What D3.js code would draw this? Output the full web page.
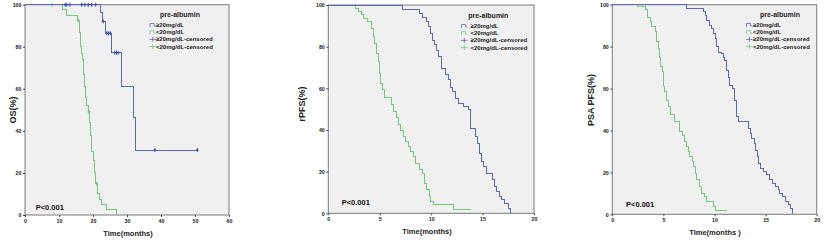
<!DOCTYPE html>
<html>
<head>
<meta charset="utf-8">
<script src="https://cdn.jsdelivr.net/npm/d3@7"></script>
<style>
  html, body { margin: 0; padding: 0; background: #fff; }
  svg { display: block; font-family: "Liberation Sans", Arial, sans-serif; }
</style>
</head>
<body>
<div id="chart"></div>
<script>
// Kaplan-Meier steps: [time (months), survival % after the event]
const osHighSteps = [[22.1, 96.4], [22.7, 92.1], [23.8, 86.4], [25.5, 77.2], [28.4, 61.3], [31.9, 46.3], [32.6, 30.9]];
const osHighCensored = [[11.8, 100], [12.3, 100], [13.2, 100], [16.7, 100], [17.6, 100], [18.6, 100], [19.6, 100], [20.8, 100],
  [23.0, 92.1], [24.1, 86.4], [24.6, 86.4], [25.1, 86.4], [26.4, 77.2], [26.9, 77.2], [27.4, 77.2], [38.2, 30.9], [50.7, 30.9]];
const osLowSteps = [[11.1, 97.5], [12.3, 95], [15.5, 92.5], [16.0, 87], [16.2, 80], [16.5, 77], [16.8, 74], [17.2, 67], [17.5, 61],
  [17.9, 56], [18.1, 52], [18.8, 49], [19.1, 44], [19.3, 38], [19.5, 30], [20.1, 26], [20.4, 20], [20.6, 15], [21.4, 10],
  [21.9, 7.5], [22.5, 5], [24.0, 2.5], [27.0, 0]];
const osLowCensored = [[8.0, 100], [15.7, 92.5], [18.8, 49], [21.1, 15]];

const rpfsHighSteps = [[7.2, 97.6], [8.9, 96], [9.2, 94], [9.5, 92], [9.7, 89.6], [9.9, 86.4], [10.1, 83], [10.3, 80.8], [10.5, 78],
  [10.7, 75.2], [11.0, 69.6], [11.4, 66.4], [11.7, 64], [11.9, 60.5], [12.1, 58.4], [12.4, 55.2], [12.7, 52.8], [13.1, 51.2],
  [13.6, 49.6], [13.8, 40.8], [14.3, 36.8], [14.5, 33.6], [14.7, 28.8], [14.9, 24.8], [15.1, 22.4], [15.4, 19.2], [16.0, 16],
  [16.2, 12.8], [16.4, 10.4], [16.6, 8], [16.8, 6.4], [17.1, 4.8], [17.5, 2.4], [17.7, 0]];
const rpfsLowSteps = [[2.6, 98.4], [2.9, 96.8], [3.2, 95.2], [3.4, 93.6], [3.8, 92], [4.2, 88.8], [4.4, 84.8], [4.5, 81.6],
  [4.7, 76.8], [4.85, 72.8], [4.95, 67.2], [5.1, 62.4], [5.3, 59.2], [5.45, 55.5], [6.15, 52], [6.3, 48.8], [6.65, 46],
  [6.8, 42.4], [7.0, 39.7], [7.3, 36.8], [7.55, 34.4], [7.8, 32], [8.0, 29.6], [8.3, 27.2], [8.5, 24], [8.9, 20.8],
  [9.2, 19.2], [9.4, 14.4], [9.55, 11.2], [9.8, 8], [9.95, 5.6], [10.2, 4], [12.2, 1.9]];
const rpfsLowEnd = 13.9;

const psaHighSteps = [[7.3, 98.3], [8.9, 96.7], [9.1, 95], [9.2, 92.7], [9.5, 90.3], [9.7, 88.7], [9.9, 86.3], [10.05, 83.9],
  [10.2, 79.9], [10.4, 77.4], [10.7, 76.6], [10.9, 75], [11.0, 73.4], [11.2, 68.7], [11.35, 65.5], [11.5, 61.6], [11.8, 60],
  [12.0, 54.5], [12.2, 46.6], [12.3, 44.2], [13.3, 41], [13.5, 38.6], [13.6, 36.2], [13.9, 33.7], [14.05, 30.5], [14.2, 27.5],
  [14.35, 24.3], [14.5, 21.9], [14.8, 20.3], [15.1, 18.8], [15.4, 16.4], [15.7, 14.8], [16.0, 13.2], [16.25, 11.6],
  [16.4, 10], [16.7, 8.4], [16.9, 6], [17.2, 4.5], [17.4, 2.9], [17.65, 0]];
const psaLowSteps = [[2.5, 99], [3.2, 97.5], [3.4, 94], [3.7, 92], [3.85, 89.5], [4.2, 87], [4.3, 84.7], [4.35, 82.4], [4.5, 79],
  [4.6, 74.6], [4.75, 70.6], [4.9, 68], [5.0, 61], [5.15, 58.5], [5.3, 54.5], [5.5, 51.4], [5.65, 47.4], [6.05, 44.2],
  [6.6, 39.4], [6.85, 37.8], [7.05, 34.7], [7.3, 32.3], [7.45, 29.9], [7.6, 27.5], [7.8, 25.1], [7.9, 22.7], [8.1, 19.6],
  [8.25, 16.4], [8.5, 13.2], [8.75, 10], [9.0, 8.4], [9.2, 6], [9.9, 3.7], [10.05, 2]];
const psaLowEnd = 11.2;

const legendLabels = ["\u226520mg/dL", "<20mg/dL", "\u226520mg/dL-censored", "<20mg/dL-censored"];
const yTickValues = [0, 20, 40, 60, 80, 100];

const BLUE = "#5b69b3";
const GREEN = "#74c683";
const PLOT_BG = "#f0f0f0";

const panels = [
  { box: { x0: 25, x1: 229, y0: 4.7, y1: 215 }, xMax: 60, xStep: 10, yTitle: "OS(%)", yTitleX: 12, yTitleY: 110,
    xTitle: "Time(months)", xTitleX: 128, xTitleY: 236, pX: 35.7, pY: 210,
    legend: { titleX: 180, symX: 150, textX: 156, y: 25 },
    high: { steps: osHighSteps, end: 50.7, censored: osHighCensored },
    low: { steps: osLowSteps, end: 27.0, censored: osLowCensored } },
  { box: { x0: 328.3, x1: 534, y0: 5, y1: 213.3 }, xMax: 20, xStep: 5, yTitle: "rPFS(%)", yTitleX: 301, yTitleY: 104,
    xTitle: "Time(months)", xTitleX: 427, xTitleY: 234, pX: 341.7, pY: 204.5,
    legend: { titleX: 488.3, symX: 461.5, textX: 470.5, y: 26 },
    high: { steps: rpfsHighSteps, end: 17.7, censored: [] },
    low: { steps: rpfsLowSteps, end: rpfsLowEnd, censored: [] } },
  { box: { x0: 612.3, x1: 816.7, y0: 4.7, y1: 214.3 }, xMax: 20, xStep: 5, yTitle: "PSA PFS(%)", yTitleX: 590, yTitleY: 100,
    xTitle: "Time(months )", xTitleX: 715, xTitleY: 235, pX: 626, pY: 207,
    legend: { titleX: 780, symX: 746.5, textX: 753, y: 25 },
    high: { steps: psaHighSteps, end: 17.65, censored: [] },
    low: { steps: psaLowSteps, end: psaLowEnd, censored: [] } },
];

const svg = d3.select("#chart").append("svg")
  .attr("width", 824)
  .attr("height", 240);

function drawPanel(p) {
  const x = d3.scaleLinear().domain([0, p.xMax]).range([p.box.x0, p.box.x1]);
  const y = d3.scaleLinear().domain([0, 100]).range([p.box.y1, p.box.y0]);
  const g = svg.append("g");

  // plot background + frame
  g.append("rect")
    .attr("x", p.box.x0).attr("y", p.box.y0)
    .attr("width", p.box.x1 - p.box.x0).attr("height", p.box.y1 - p.box.y0)
    .attr("fill", PLOT_BG).attr("stroke", "#7a7a7a").attr("stroke-width", 1);

  // axes
  const xAxis = d3.axisBottom(x).tickValues(d3.range(0, p.xMax + 1, p.xStep)).tickSize(2).tickPadding(2);
  const yAxis = d3.axisLeft(y).tickValues(yTickValues).tickSize(2).tickPadding(1.5);
  const xg = g.append("g").attr("transform", `translate(0,${p.box.y1})`).call(xAxis);
  const yg = g.append("g").attr("transform", `translate(${p.box.x0},0)`).call(yAxis);
  [xg, yg].forEach((ag) => {
    ag.select(".domain").remove();
    ag.selectAll(".tick line").attr("stroke", "#444");
    ag.selectAll(".tick text").attr("font-size", "5.3px").attr("font-weight", "bold").attr("fill", "#222");
  });

  // step curves
  const line = d3.line().x((d) => x(d[0])).y((d) => y(d[1])).curve(d3.curveStepAfter);
  [{ s: p.low, c: GREEN }, { s: p.high, c: BLUE }].forEach(({ s, c }) => {
    const pts = [[0, 100], ...s.steps];
    const last = pts[pts.length - 1];
    if (s.end > last[0]) pts.push([s.end, last[1]]);
    g.append("path").attr("d", line(pts))
      .attr("fill", "none").attr("stroke", c).attr("stroke-width", 1)
      .attr("shape-rendering", "crispEdges");
    g.selectAll(null).data(s.censored).join("path")
      .attr("transform", (d) => `translate(${x(d[0])},${y(d[1])})`)
      .attr("d", "M-1.5,0H1.5M0,-2V2")
      .attr("stroke", c === BLUE ? "#3a4a9e" : c).attr("stroke-width", 1);
  });

  // axis titles
  g.append("text")
    .attr("x", p.xTitleX).attr("y", p.xTitleY)
    .attr("text-anchor", "middle").attr("font-size", "7.5px").attr("font-weight", "bold").attr("fill", "#222")
    .text(p.xTitle);
  g.append("text")
    .attr("transform", `translate(${p.yTitleX + 3.5},${p.yTitleY}) rotate(-90)`)
    .attr("text-anchor", "middle").attr("font-size", "9px").attr("font-weight", "bold").attr("fill", "#222")
    .text(p.yTitle);

  g.append("text")
    .attr("x", p.pX).attr("y", p.pY)
    .attr("font-size", "7.5px").attr("font-weight", "bold").attr("fill", "#111")
    .text("P<0.001");

  // legend
  const lg = p.legend;
  g.append("text")
    .attr("x", lg.titleX).attr("y", lg.y - 8)
    .attr("text-anchor", "middle").attr("font-size", "7px").attr("font-weight", "bold").attr("fill", "#222")
    .text("pre-albumin");
  legendLabels.forEach((lab, i) => {
    const cy = lg.y + i * 7.2;
    const col = i % 2 === 0 ? BLUE : GREEN;
    if (i < 2) {
      g.append("path")
        .attr("d", `M${lg.symX},${cy + 2}V${cy - 1.5}H${lg.symX + 4}V${cy + 1}H${lg.symX + 6}`)
        .attr("fill", "none").attr("stroke", col).attr("stroke-width", 0.8);
    } else {
      g.append("path")
        .attr("d", `M${lg.symX - 0.5},${cy}H${lg.symX + 6}M${lg.symX + 2.8},${cy - 2.5}V${cy + 2.5}`)
        .attr("fill", "none").attr("stroke", col).attr("stroke-width", 0.8);
    }
    g.append("text")
      .attr("x", lg.textX).attr("y", cy + 2)
      .attr("font-size", "6px").attr("font-weight", "bold").attr("fill", "#222")
      .text(lab);
  });
}

panels.forEach(drawPanel);
</script>
</body>
</html>
